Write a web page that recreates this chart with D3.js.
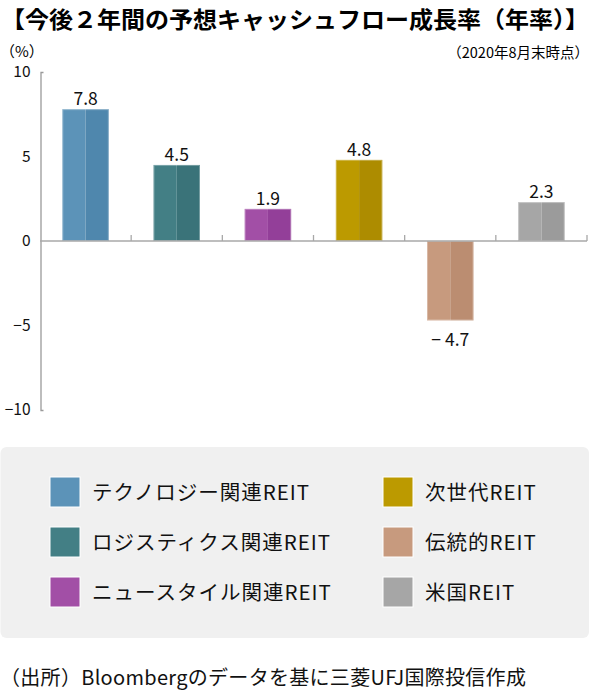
<!DOCTYPE html>
<html>
<head>
<meta charset="utf-8">
<script src="https://cdn.jsdelivr.net/npm/d3@7"></script>
<style>
  body { margin: 0; background: #fff; }
  svg { display: block; font-family: "Noto Sans CJK JP", "Noto Sans", sans-serif; }
</style>
</head>
<body>
<svg width="590" height="690"></svg>
<script>
const categories = ["テクノロジー関連REIT", "ロジスティクス関連REIT", "ニュースタイル関連REIT", "次世代REIT", "伝統的REIT", "米国REIT"];
const values = [7.8, 4.5, 1.9, 4.8, -4.7, 2.3];
const yTicks = [10, 5, 0, -5, -10];
const legendOrder = [0, 3, 1, 4, 2, 5];

const colors = ["#5c93b8", "#437f85", "#a24fa6", "#bc9a00", "#c79a7e", "#a6a6a6"];
const darkColors = ["#4f87ad", "#3a7379", "#933f99", "#ad8c00", "#bb8d71", "#9b9b9b"];

const svg = d3.select("svg");

// title + notes
svg.append("text")
  .attr("x", 1).attr("y", 28)
  .attr("font-size", 23).attr("font-weight", "bold")
  .attr("textLength", 588).attr("lengthAdjust", "spacingAndGlyphs")
  .text("【今後２年間の予想キャッシュフロー成長率（年率）】");

svg.append("text")
  .attr("x", 0).attr("y", 57)
  .attr("font-size", 15)
  .text("（%）");

svg.append("text")
  .attr("x", 589).attr("y", 58)
  .attr("text-anchor", "end")
  .attr("font-size", 14.5)
  .text("（2020年8月末時点）");

const x = d3.scaleBand()
  .domain(categories)
  .range([40, 587])
  .paddingInner(0.49)
  .paddingOuter(0.245);

const band = d3.scaleBand().domain(categories).range([40, 587]);

const y = d3.scaleLinear()
  .domain([-10, 10])
  .range([410, 72]);

// y axis
const yAxis = svg.append("g")
  .attr("transform", "translate(40.5,0)")
  .call(d3.axisLeft(y).tickValues(yTicks).tickSize(0).tickSizeOuter(-3).tickPadding(10));
yAxis.select(".domain").attr("stroke", "#9a9a9a").attr("stroke-width", 1.3);
yAxis.selectAll("text").attr("font-size", 15.5).attr("fill", "#111")
  .attr("font-family", "\"Noto Sans CJK JP\", sans-serif");

// bars, two tone halves
const bars = svg.append("g").selectAll("g")
  .data(values)
  .join("g");

bars.append("rect")
  .attr("x", (d, i) => x(categories[i]))
  .attr("y", d => y(Math.max(0, d)))
  .attr("width", x.bandwidth() / 2)
  .attr("height", d => Math.abs(y(d) - y(0)))
  .attr("fill", (d, i) => colors[i]);

bars.append("rect")
  .attr("x", (d, i) => x(categories[i]) + x.bandwidth() / 2)
  .attr("y", d => y(Math.max(0, d)))
  .attr("width", x.bandwidth() / 2)
  .attr("height", d => Math.abs(y(d) - y(0)))
  .attr("fill", (d, i) => darkColors[i]);

bars.append("rect")
  .attr("x", (d, i) => x(categories[i]) + 0.5)
  .attr("y", d => y(Math.max(0, d)) + 0.5)
  .attr("width", x.bandwidth() - 1)
  .attr("height", d => Math.abs(y(d) - y(0)) - 1)
  .attr("fill", "none")
  .attr("stroke", "rgba(255,255,255,0.3)");

bars.append("text")
  .attr("x", (d, i) => x(categories[i]) + x.bandwidth() / 2)
  .attr("y", d => d >= 0 ? y(d) - 4 : y(d) + 26)
  .attr("text-anchor", "middle")
  .attr("font-size", 17.5)
  .attr("fill", "#111")
  .text(d => d3.format(".1f")(d).replace("−", "− "));

// x axis at zero with upward ticks on band edges
const xAxis = svg.append("g")
  .attr("transform", `translate(0,${y(0)})`);
xAxis.append("line")
  .attr("x1", 40).attr("x2", 587)
  .attr("stroke", "#a8a8a8").attr("stroke-width", 1.6);
xAxis.selectAll(".tk")
  .data(categories)
  .join("line")
  .attr("class", "tk")
  .attr("x1", d => band(d) + band.bandwidth())
  .attr("x2", d => band(d) + band.bandwidth())
  .attr("y1", 0).attr("y2", -6)
  .attr("stroke", "#a8a8a8").attr("stroke-width", 1.3);

// legend
svg.append("rect")
  .attr("x", 0.5).attr("y", 447)
  .attr("width", 588.5).attr("height", 191)
  .attr("rx", 6)
  .attr("fill", "#f0f0f0");

const legend = svg.append("g").selectAll("g")
  .data(legendOrder)
  .join("g")
  .attr("transform", (d, k) => `translate(${k % 2 === 0 ? 50 : 383},${477 + Math.floor(k / 2) * 50})`);

legend.append("rect")
  .attr("width", 30).attr("height", 30)
  .attr("fill", d => colors[d])
  .attr("stroke", "#fff").attr("stroke-width", 1);

legend.append("text")
  .attr("x", 42).attr("y", 23)
  .attr("font-size", 20.5)
  .attr("letter-spacing", 1)
  .attr("fill", "#111")
  .text(d => categories[d]);

svg.append("text")
  .attr("x", 0).attr("y", 685)
  .attr("font-size", 20)
  .attr("letter-spacing", 0.3)
  .attr("fill", "#111")
  .text("（出所）Bloombergのデータを基に三菱UFJ国際投信作成");
</script>
</body>
</html>
